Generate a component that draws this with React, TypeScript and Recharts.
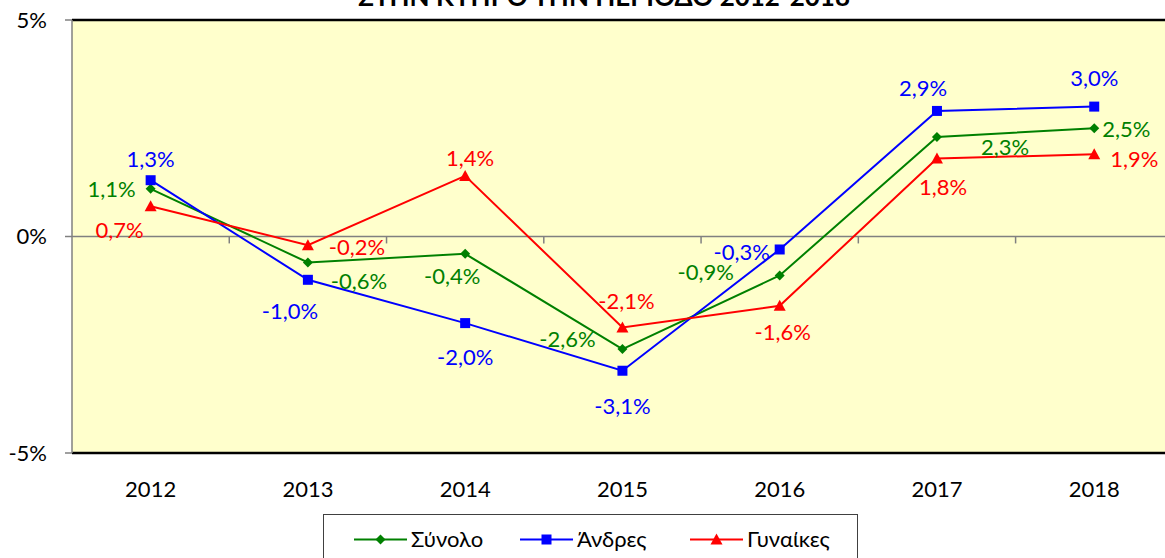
import React from 'react';
import {
  LineChart,
  Line,
  XAxis,
  YAxis,
  CartesianGrid,
  ReferenceLine,
} from 'recharts';

const years = ['2012', '2013', '2014', '2015', '2016', '2017', '2018'];
const total = [1.1, -0.6, -0.4, -2.6, -0.9, 2.3, 2.5];
const men = [1.3, -1.0, -2.0, -3.1, -0.3, 2.9, 3.0];
const women = [0.7, -0.2, 1.4, -2.1, -1.6, 1.8, 1.9];
const yTicks = [-5, 0, 5];
const title = 'ΣΤΗΝ ΚΥΠΡΟ ΤΗΝ ΠΕΡΙΟΔΟ 2012-2018';

// label offsets (dx, dy) from each point
const totalOff = [[-39, 0], [51, 18], [-13, 22], [-55, -11], [-74, -4], [68, 10], [32, 0]];
const menOff = [[0, -22], [-18, 31], [0, 33], [0, 35], [-38, 2], [-14, -23], [0, -29]];
const womenOff = [[-31, 23], [49, 1], [5, -18], [4, -27], [3, 26], [6, 28], [40, 4]];

const GREEN = '#008000';
const BLUE = '#0000FF';
const RED = '#FF0000';
const FONT = 'Lato, "Noto Sans", sans-serif';

const data = years.map((y, i) => ({
  x: i,
  year: y,
  total: total[i],
  men: men[i],
  women: women[i],
}));

const fmt = (v: number) => `${v.toFixed(1).replace('.', ',')}%`;

const makeLabel = (off: number[][], color: string) => (props: any) => {
  const { x, y, value, index } = props;
  const [dx, dy] = off[index] || [0, 0];
  return (
    <text
      key={index}
      x={x + dx}
      y={y + dy}
      textAnchor="middle"
      dominantBaseline="central"
      fill={color}
      fontSize={22}
      fontFamily={FONT}
    >
      {fmt(value)}
    </text>
  );
};

const Diamond = ({ cx, cy, color }: any) => (
  <path d={`M${cx},${cy - 5}L${cx + 5},${cy}L${cx},${cy + 5}L${cx - 5},${cy}Z`} fill={color} />
);
const Square = ({ cx, cy, color }: any) => (
  <rect x={cx - 5} y={cy - 5} width={10} height={10} fill={color} />
);
const Triangle = ({ cx, cy, color }: any) => (
  <path d={`M${cx},${cy - 6}L${cx + 6},${cy + 5}L${cx - 6},${cy + 5}Z`} fill={color} />
);

const legendItems = [
  { name: 'Σύνολο', color: GREEN, Marker: Diamond, x: 354 },
  { name: 'Άνδρες', color: BLUE, Marker: Square, x: 520 },
  { name: 'Γυναίκες', color: RED, Marker: Triangle, x: 690 },
];

const Overlay = () => (
  <svg
    width={1165}
    height={558}
    style={{ position: 'absolute', left: 0, top: 0, pointerEvents: 'none' }}
  >
    <text
      x={604}
      y={6}
      textAnchor="middle"
      fontFamily={FONT}
      fontWeight="bold"
      fontSize={26}
      fill="#000"
    >
      {title}
    </text>
    <rect x={323.5} y={514.5} width={534} height={60} fill="#fff" stroke="#404040" strokeWidth={1} />
    {legendItems.map(({ name, color, Marker, x }) => (
      <g key={name}>
        <line x1={x} y1={539.5} x2={x + 53} y2={539.5} stroke={color} strokeWidth={2} />
        <Marker cx={x + 26.5} cy={539.5} color={color} />
        <text x={x + 57} y={547} fontFamily={FONT} fontSize={22} fill="#000">
          {name}
        </text>
      </g>
    ))}
  </svg>
);

export default function App() {
  return (
    <div style={{ position: 'absolute', left: 0, top: 0, width: 1165, height: 558, overflow: 'hidden', background: '#fff' }}>
      <LineChart
        width={1165}
        height={558}
        data={data}
        margin={{ top: 20, right: 0, bottom: 75, left: 0 }}
      >
        <CartesianGrid fill="#FFFFCC" horizontal={false} vertical={false} />
        <XAxis
          dataKey="x"
          type="number"
          domain={[-0.5, 6.45]}
          ticks={[0, 1, 2, 3, 4, 5, 6]}
          tickFormatter={(v: number) => years[v]}
          axisLine={false}
          tickLine={false}
          tickSize={0}
          tickMargin={28}
          height={30}
          tick={{ fill: '#000', fontSize: 22, fontFamily: FONT }}
          interval={0}
        />
        <YAxis
          domain={[-5, 5]}
          ticks={yTicks}
          tickFormatter={(v: number) => `${v}%`}
          width={72}
          axisLine={{ stroke: '#808080', strokeWidth: 1.5 }}
          tickLine={{ stroke: '#808080', strokeWidth: 1.5 }}
          tickSize={7}
          tickMargin={18}
          tick={{ fill: '#000', fontSize: 22, fontFamily: FONT }}
        />
        <ReferenceLine y={0} stroke="#808080" strokeWidth={1.5} />
        {[0.5, 1.5, 2.5, 3.5, 4.5, 5.5].map((b) => (
          <ReferenceLine
            key={b}
            segment={[{ x: b, y: 0 }, { x: b, y: -0.16 }]}
            stroke="#808080"
            strokeWidth={1.5}
          />
        ))}
        <ReferenceLine y={5} stroke="#000" strokeWidth={2.5} />
        <ReferenceLine y={-5} stroke="#000" strokeWidth={2.5} />
        <Line
          dataKey="total"
          name="Σύνολο"
          stroke={GREEN}
          strokeWidth={2}
          isAnimationActive={false}
          dot={(p: any) => <Diamond key={p.index} cx={p.cx} cy={p.cy} color={GREEN} />}
          label={makeLabel(totalOff, GREEN)}
        />
        <Line
          dataKey="men"
          name="Άνδρες"
          stroke={BLUE}
          strokeWidth={2}
          isAnimationActive={false}
          dot={(p: any) => <Square key={p.index} cx={p.cx} cy={p.cy} color={BLUE} />}
          label={makeLabel(menOff, BLUE)}
        />
        <Line
          dataKey="women"
          name="Γυναίκες"
          stroke={RED}
          strokeWidth={2}
          isAnimationActive={false}
          dot={(p: any) => <Triangle key={p.index} cx={p.cx} cy={p.cy} color={RED} />}
          label={makeLabel(womenOff, RED)}
        />
      </LineChart>
      <Overlay />
    </div>
  );
}
